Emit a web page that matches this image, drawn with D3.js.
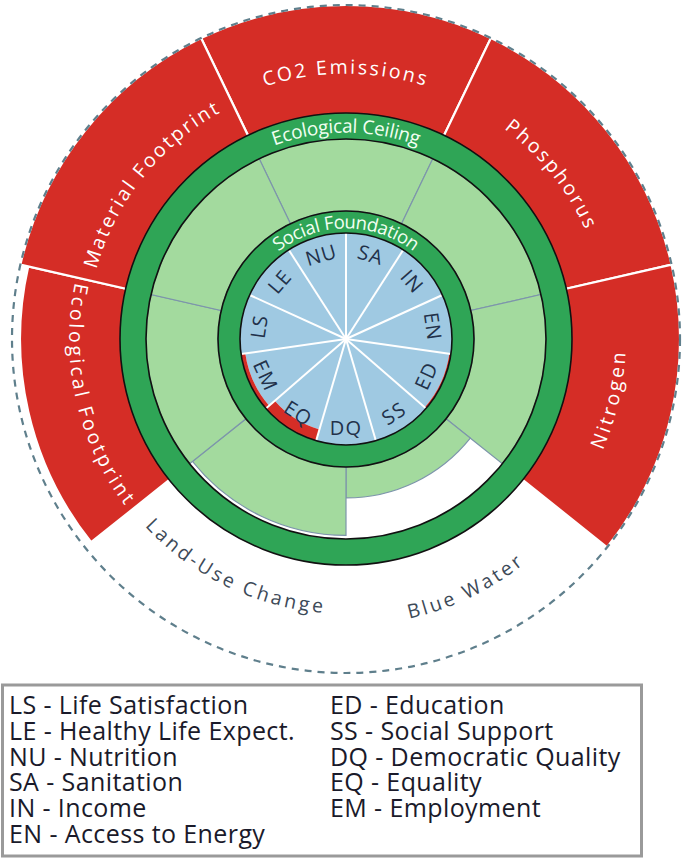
<!DOCTYPE html>
<html><head><meta charset="utf-8">
<script src="https://cdn.jsdelivr.net/npm/d3@7"></script>
<style>body{margin:0;background:#fff} svg{display:block}</style>
</head><body>
<svg id="c" width="685" height="859"></svg>
<script>
// ---------- data ----------
const ecoNames  = ["CO2 Emissions","Phosphorus","Nitrogen","Blue Water","Land-Use Change","Ecological Footprint","Material Footprint"];
const ecoValues = [2.0, 2.0, 2.0, 0.43, 0.95, 1.94, 2.0];   // 1 = ecological ceiling
const socCodes  = ["LS","LE","NU","SA","IN","EN","ED","SS","DQ","EQ","EM"];
const socNames  = ["Life Satisfaction","Healthy Life Expect.","Nutrition","Sanitation","Income","Access to Energy","Education","Social Support","Democratic Quality","Equality","Employment"];
const socValues = [1, 1, 1, 1, 1, 1, 0.985, 1, 1, 0.89, 0.96]; // 1 = social foundation
const ringLabels = ["Ecological Ceiling","Social Foundation"];

// ---------- layout / style ----------
const W = 685, cx = 346, cy = 339;
const R = {socIn:106, socOut:128, ceilIn:200, ceilOut:226, max:334};
const ecoLabelR = [272, 270, 273, 280, 268, 270, 266];
const C = {red:"#d52d26", dgreen:"#2fa556", lgreen:"#a3da9e", blue:"#9fc9e2",
           slate:"#7d95ab", dash:"#5f7f8c", dark:"#22314a", grey:"#3d4a58"};
const FONT = "'Open Sans', 'Noto Sans', sans-serif";

const svg = d3.select("#c");
const g = svg.append("g").attr("transform", `translate(${cx},${cy})`);

const ecoR = d3.scaleLinear().domain([0,1,2]).range([R.socOut, R.ceilIn, R.max]).clamp(true);
const socR = d3.scaleLinear().domain([0,1]).range([0, R.socIn]).clamp(true);
const ecoStep = 2*Math.PI/ecoNames.length;
const socStep = 2*Math.PI/socCodes.length;
const arc = d3.arc();

const eco = ecoNames.map((n,i)=>({name:n, v:ecoValues[i], a0:(i-0.5)*ecoStep, a1:(i+0.5)*ecoStep, mid:i*ecoStep, lr:ecoLabelR[i]}));
const soc = socCodes.map((c,i)=>({code:c, v:socValues[i], a0:(i-3)*socStep, a1:(i-2)*socStep, mid:(i-2.5)*socStep}));

// red overshoot
g.selectAll("path.over").data(eco.filter(d=>d.v>1)).join("path")
  .attr("class","over")
  .attr("d", d=>arc({innerRadius:R.ceilIn, outerRadius:ecoR(d.v), startAngle:d.a0, endAngle:d.a1}))
  .attr("fill", C.red).attr("stroke","#fff").attr("stroke-width",2.2);

// light green (within ceiling)
g.selectAll("path.safe").data(eco).join("path")
  .attr("class","safe")
  .attr("d", d=>arc({innerRadius:R.socOut, outerRadius:ecoR(Math.min(d.v,1)), startAngle:d.a0, endAngle:d.a1}))
  .attr("fill", C.lgreen).attr("stroke", C.slate).attr("stroke-width",1.2);

// rings
function ring(r0, r1){
  g.append("path").attr("d", arc({innerRadius:r0, outerRadius:r1, startAngle:0, endAngle:2*Math.PI}))
    .attr("fill", C.dgreen);
  [r0, r1].forEach(r=>g.append("circle").attr("r", r).attr("fill","none").attr("stroke","#111").attr("stroke-width",1.6));
}
ring(R.ceilIn, R.ceilOut);

// social wedges
g.selectAll("path.socb").data(soc).join("path")
  .attr("d", d=>arc({innerRadius:0, outerRadius:socR(d.v), startAngle:d.a0, endAngle:d.a1}))
  .attr("fill", C.blue);
g.selectAll("path.socr").data(soc.filter(d=>d.v<1)).join("path")
  .attr("d", d=>arc({innerRadius:socR(d.v), outerRadius:R.socIn, startAngle:d.a0, endAngle:d.a1}))
  .attr("fill", C.red);
g.selectAll("line.socsep").data(soc).join("line")
  .attr("x1",0).attr("y1",0)
  .attr("x2", d=>R.socIn*Math.sin(d.a0)).attr("y2", d=>-R.socIn*Math.cos(d.a0))
  .attr("stroke","#fff").attr("stroke-width",2);
ring(R.socIn, R.socOut);

// social labels
const deg = a => ((a*180/Math.PI)%360+360)%360;
g.selectAll("text.soc").data(soc).join("text")
  .attr("transform", d=>{
    const dd = deg(d.mid); const rot = (dd>90 && dd<270) ? dd-180 : (dd>=270 ? dd-360 : dd);
    return `translate(${88*Math.sin(d.mid)},${-88*Math.cos(d.mid)}) rotate(${rot})`;
  })
  .attr("text-anchor","middle").attr("dominant-baseline","central")
  .attr("font-family", FONT).attr("font-size",20).attr("letter-spacing",1.2)
  .attr("fill", C.dark).text(d=>d.code);

// arc label helper
const defs = svg.append("defs");
function arcText(id, r, mid, half, flip, txt, size, fill, ls){
  const p = a => [r*Math.sin(a), -r*Math.cos(a)];
  const s = flip ? p(mid+half) : p(mid-half), e = flip ? p(mid-half) : p(mid+half);
  defs.append("path").attr("id", id)
    .attr("d", `M${s[0]+cx},${s[1]+cy} A${r},${r} 0 0 ${flip?0:1} ${e[0]+cx},${e[1]+cy}`);
  svg.append("text").attr("font-family", FONT).attr("font-size", size).attr("fill", fill)
    .attr("letter-spacing", ls).attr("dy","0.35em")
    .append("textPath").attr("href", "#"+id).attr("startOffset","50%").attr("text-anchor","middle")
    .text(txt);
}
arcText("rc", (R.ceilIn+R.ceilOut)/2, 0, 1.2, false, ringLabels[0], 19, "#f2fff2", 0);
arcText("rs", (R.socIn+R.socOut)/2, 0, 1.4, false, ringLabels[1], 18.5, "#f2fff2", 0);

eco.forEach((d,i)=>{
  const dd = deg(d.mid); const flip = dd>90 && dd<270;
  arcText("e"+i, d.lr, d.mid, 1.2, flip, d.name, 19.5, d.v>1 ? "#ffffff" : C.grey, 2.7);
});

// dashed outer boundary
g.append("circle").attr("r", R.max).attr("fill","none").attr("stroke", C.dash)
  .attr("stroke-width",2.2).attr("stroke-dasharray","7,6");

// legend
const leg = svg.append("g");
leg.append("rect").attr("x",2.5).attr("y",685).attr("width",639).attr("height",171)
  .attr("fill","#fff").attr("stroke","#9a9a9a").attr("stroke-width",3);
const entries = socCodes.map((c,i)=>`${c} - ${socNames[i]}`);
leg.selectAll("text").data(entries).join("text")
  .attr("x", (d,i)=> i<6 ? 9 : 330)
  .attr("y", (d,i)=> 714 + (i<6 ? i : i-6)*25.8)
  .attr("font-family", FONT).attr("font-size",25).attr("letter-spacing",0.4).attr("fill","#1a1a2a")
  .text(d=>d);
</script>
</body></html>
